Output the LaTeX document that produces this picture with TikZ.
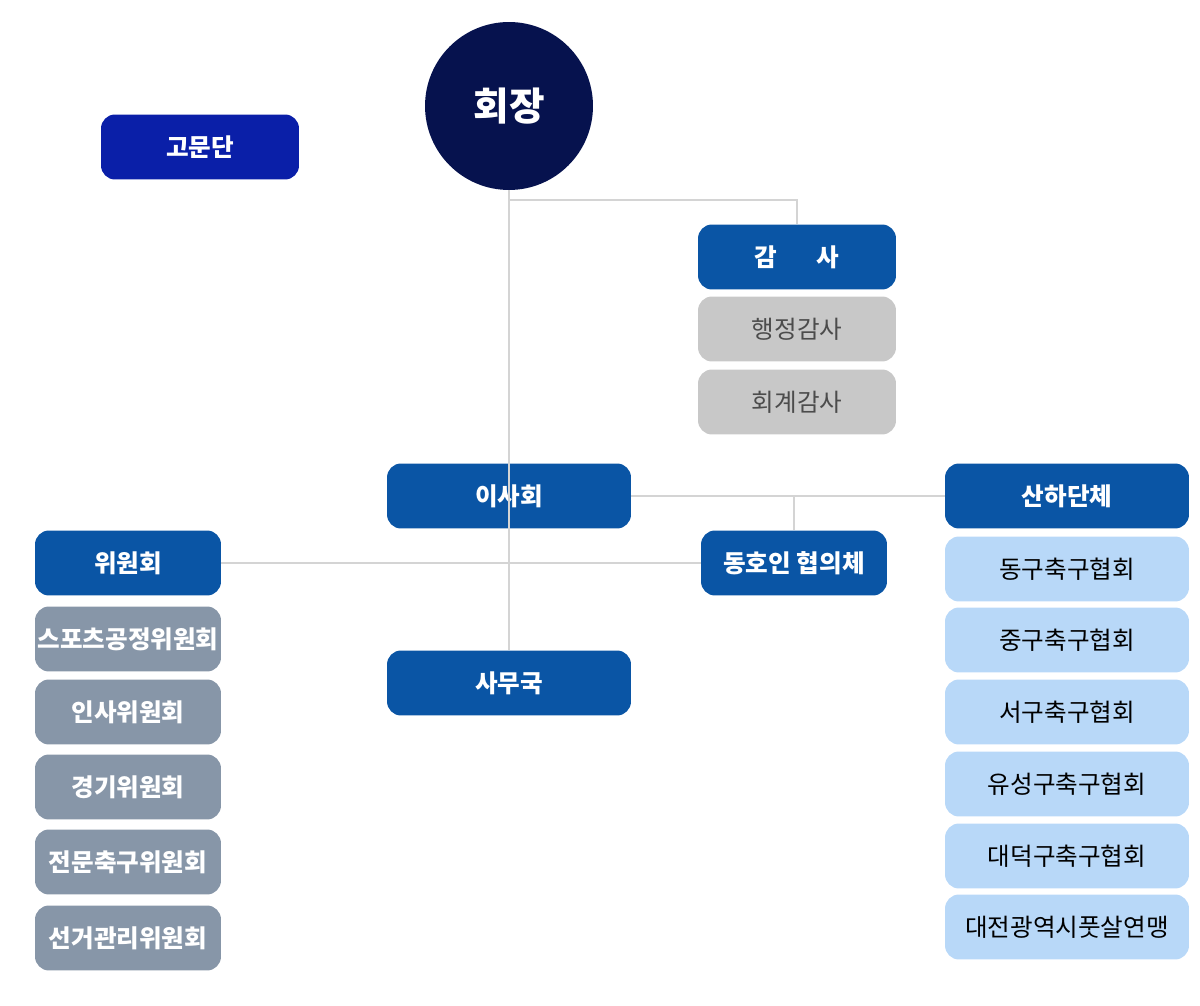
\documentclass[tikz,border=0pt]{standalone}
\usepackage{fontspec}
\setmainfont{Noto Sans CJK KR}
\usetikzlibrary{positioning}
\definecolor{navy}{HTML}{06124E}
\definecolor{advblue}{HTML}{0A1FA8}
\definecolor{mainblue}{HTML}{0A55A5}
\definecolor{subgray}{HTML}{C8C8C8}
\definecolor{slate}{HTML}{8796A8}
\definecolor{skyblue}{HTML}{B8D8F8}
\definecolor{linegray}{HTML}{D4D4D4}

\begin{document}
\begin{tikzpicture}[x=0.02cm, y=-0.02cm,
    box/.style={rounded corners=0.28cm, minimum height=1.3cm, inner sep=0pt, font=\fontsize{14}{16}\selectfont},
    head/.style={box, fill=mainblue, text=white, font=\bfseries\fontsize{14}{16}\selectfont},
    audit/.style={box, fill=subgray, text=black!70, minimum width=3.96cm},
    cmte/.style={box, fill=slate, text=white, minimum width=3.72cm, font=\bfseries\fontsize{14}{16}\selectfont},
    club/.style={box, fill=skyblue, text=black, minimum width=4.88cm},
    link/.style={draw=linegray, line width=0.6pt}]
  \useasboundingbox (0,0) rectangle (1200,1006);
  % chairman and advisors
  \node[circle, fill=navy, text=white, minimum size=3.36cm, font=\bfseries\fontsize{22}{24}\selectfont] (chair) at (509,106) {회장};
  \node[box, fill=advblue, text=white, minimum width=3.96cm, font=\bfseries\fontsize{14}{16}\selectfont] (advisor) at (200,147) {고문단};
  % audit
  \node[head, minimum width=3.96cm] (audit) at (797,257) {감\hspace{1.6em}사};
  \node[audit] (audit-1) at (797,329) {행정감사};
  \node[audit] (audit-2) at (797,402) {회계감사};
  % board
  \node[head, minimum width=4.88cm] (board) at (509,496) {이사회};
  \node[head, minimum width=4.88cm] (member) at (1067,496) {산하단체};
  \node[head, minimum width=3.72cm] (committee) at (128,563) {위원회};
  \node[head, minimum width=3.72cm] (council) at (794,563) {동호인 협의체};
  \node[head, minimum width=4.88cm] (office) at (509,683) {사무국};
  % committees
  \node[cmte] (cmte-1) at (128,639) {스포츠공정위원회};
  \node[cmte] (cmte-2) at (128,712) {인사위원회};
  \node[cmte] (cmte-3) at (128,787) {경기위원회};
  \node[cmte] (cmte-4) at (128,862) {전문축구위원회};
  \node[cmte] (cmte-5) at (128,938) {선거관리위원회};
  % member clubs
  \node[club] (club-1) at (1067,569) {동구축구협회};
  \node[club] (club-2) at (1067,640) {중구축구협회};
  \node[club] (club-3) at (1067,712) {서구축구협회};
  \node[club] (club-4) at (1067,784) {유성구축구협회};
  \node[club] (club-5) at (1067,856) {대덕구축구협회};
  \node[club] (club-6) at (1067,927) {대전광역시풋살연맹};
  % connectors
  \coordinate (fork) at (510,200);
  \draw[link] (chair.south) -- (office.north);
  \draw[link] (fork) -| (audit.north);
  \draw[link] (board.east) -- (member.west);
  \draw[link] (council.north |- board.east) -- (council.north);
  \draw[link] (committee.east) -- (council.west);
\end{tikzpicture}
\end{document}
